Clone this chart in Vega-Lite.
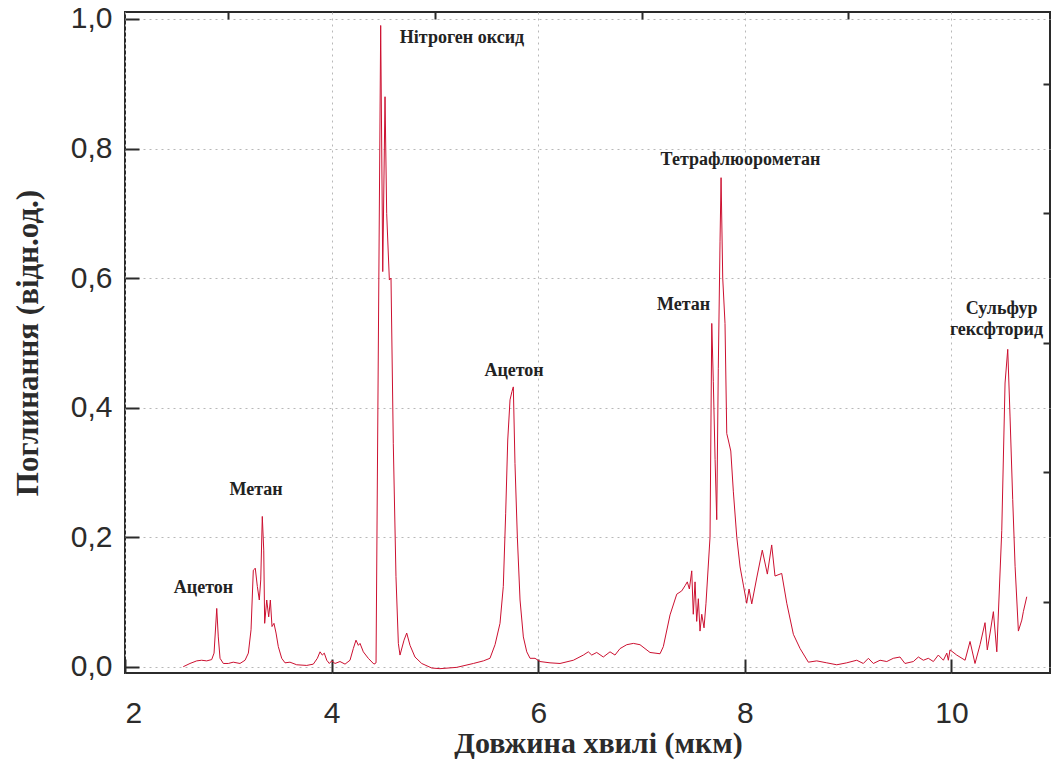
{
  "$schema": "https://vega.github.io/schema/vega-lite/v6.json",
  "width": 925,
  "height": 661,
  "autosize": {"type": "none"},
  "padding": {"left": 125, "top": 12, "right": 2, "bottom": 87},
  "background": "white",
  "config": {
    "view": {"stroke": "#2b2b2b", "strokeWidth": 2},
    "axis": {"domain": false, "tickColor": "#2b2b2b", "tickWidth": 2, "labelColor": "#2b2b2b", "titleColor": "#2b2b2b"}
  },
  "datasets": {
    "spectrum": [
      {"wl": 2.564, "a": 0.0}, {"wl": 2.629, "a": 0.005}, {"wl": 2.694, "a": 0.009}, {"wl": 2.742, "a": 0.010},
      {"wl": 2.791, "a": 0.009}, {"wl": 2.839, "a": 0.011}, {"wl": 2.862, "a": 0.021}, {"wl": 2.888, "a": 0.090},
      {"wl": 2.903, "a": 0.046}, {"wl": 2.920, "a": 0.013}, {"wl": 2.952, "a": 0.005}, {"wl": 3.000, "a": 0.005},
      {"wl": 3.048, "a": 0.007}, {"wl": 3.113, "a": 0.005}, {"wl": 3.162, "a": 0.010}, {"wl": 3.194, "a": 0.021},
      {"wl": 3.220, "a": 0.057}, {"wl": 3.242, "a": 0.149}, {"wl": 3.261, "a": 0.152}, {"wl": 3.281, "a": 0.124},
      {"wl": 3.300, "a": 0.103}, {"wl": 3.314, "a": 0.134}, {"wl": 3.329, "a": 0.232}, {"wl": 3.343, "a": 0.180},
      {"wl": 3.352, "a": 0.067}, {"wl": 3.372, "a": 0.103}, {"wl": 3.391, "a": 0.077}, {"wl": 3.407, "a": 0.103},
      {"wl": 3.423, "a": 0.062}, {"wl": 3.442, "a": 0.067}, {"wl": 3.462, "a": 0.052}, {"wl": 3.484, "a": 0.031},
      {"wl": 3.517, "a": 0.013}, {"wl": 3.549, "a": 0.006}, {"wl": 3.597, "a": 0.007}, {"wl": 3.662, "a": 0.003},
      {"wl": 3.759, "a": 0.002}, {"wl": 3.823, "a": 0.004}, {"wl": 3.862, "a": 0.013}, {"wl": 3.888, "a": 0.023},
      {"wl": 3.910, "a": 0.018}, {"wl": 3.929, "a": 0.021}, {"wl": 3.953, "a": 0.010}, {"wl": 3.978, "a": 0.005},
      {"wl": 4.001, "a": 0.009}, {"wl": 4.033, "a": 0.005}, {"wl": 4.081, "a": 0.008}, {"wl": 4.130, "a": 0.004},
      {"wl": 4.178, "a": 0.010}, {"wl": 4.210, "a": 0.028}, {"wl": 4.236, "a": 0.041}, {"wl": 4.259, "a": 0.033},
      {"wl": 4.275, "a": 0.036}, {"wl": 4.307, "a": 0.023}, {"wl": 4.355, "a": 0.013}, {"wl": 4.410, "a": 0.004},
      {"wl": 4.430, "a": 0.006}, {"wl": 4.475, "a": 0.990}, {"wl": 4.495, "a": 0.610}, {"wl": 4.517, "a": 0.880},
      {"wl": 4.533, "a": 0.700}, {"wl": 4.559, "a": 0.597}, {"wl": 4.575, "a": 0.600}, {"wl": 4.597, "a": 0.345},
      {"wl": 4.623, "a": 0.139}, {"wl": 4.646, "a": 0.036}, {"wl": 4.662, "a": 0.018}, {"wl": 4.701, "a": 0.041},
      {"wl": 4.727, "a": 0.052}, {"wl": 4.759, "a": 0.033}, {"wl": 4.807, "a": 0.015}, {"wl": 4.872, "a": 0.005},
      {"wl": 4.969, "a": -0.002}, {"wl": 5.049, "a": -0.003}, {"wl": 5.211, "a": -0.001}, {"wl": 5.372, "a": 0.005},
      {"wl": 5.469, "a": 0.009}, {"wl": 5.533, "a": 0.013}, {"wl": 5.582, "a": 0.034}, {"wl": 5.630, "a": 0.067},
      {"wl": 5.662, "a": 0.124}, {"wl": 5.685, "a": 0.237}, {"wl": 5.705, "a": 0.350}, {"wl": 5.727, "a": 0.412},
      {"wl": 5.746, "a": 0.425}, {"wl": 5.759, "a": 0.432}, {"wl": 5.775, "a": 0.314}, {"wl": 5.798, "a": 0.200},
      {"wl": 5.824, "a": 0.103}, {"wl": 5.856, "a": 0.046}, {"wl": 5.889, "a": 0.023}, {"wl": 5.921, "a": 0.013},
      {"wl": 5.969, "a": 0.013}, {"wl": 6.017, "a": 0.008}, {"wl": 6.114, "a": 0.006}, {"wl": 6.211, "a": 0.005},
      {"wl": 6.340, "a": 0.010}, {"wl": 6.437, "a": 0.018}, {"wl": 6.485, "a": 0.023}, {"wl": 6.518, "a": 0.018},
      {"wl": 6.566, "a": 0.022}, {"wl": 6.630, "a": 0.015}, {"wl": 6.695, "a": 0.023}, {"wl": 6.743, "a": 0.018},
      {"wl": 6.792, "a": 0.028}, {"wl": 6.857, "a": 0.034}, {"wl": 6.921, "a": 0.036}, {"wl": 6.985, "a": 0.034},
      {"wl": 7.082, "a": 0.022}, {"wl": 7.179, "a": 0.020}, {"wl": 7.211, "a": 0.031}, {"wl": 7.276, "a": 0.080},
      {"wl": 7.341, "a": 0.112}, {"wl": 7.389, "a": 0.117}, {"wl": 7.421, "a": 0.125}, {"wl": 7.443, "a": 0.131},
      {"wl": 7.463, "a": 0.120}, {"wl": 7.486, "a": 0.148}, {"wl": 7.501, "a": 0.081}, {"wl": 7.518, "a": 0.131},
      {"wl": 7.534, "a": 0.070}, {"wl": 7.550, "a": 0.105}, {"wl": 7.566, "a": 0.055}, {"wl": 7.583, "a": 0.081},
      {"wl": 7.605, "a": 0.060}, {"wl": 7.624, "a": 0.098}, {"wl": 7.663, "a": 0.200}, {"wl": 7.680, "a": 0.530},
      {"wl": 7.695, "a": 0.440}, {"wl": 7.712, "a": 0.320}, {"wl": 7.728, "a": 0.227}, {"wl": 7.743, "a": 0.460},
      {"wl": 7.760, "a": 0.657}, {"wl": 7.770, "a": 0.755}, {"wl": 7.786, "a": 0.600}, {"wl": 7.808, "a": 0.530},
      {"wl": 7.825, "a": 0.360}, {"wl": 7.840, "a": 0.350}, {"wl": 7.864, "a": 0.333}, {"wl": 7.889, "a": 0.270},
      {"wl": 7.922, "a": 0.200}, {"wl": 7.954, "a": 0.154}, {"wl": 7.986, "a": 0.126}, {"wl": 8.018, "a": 0.098},
      {"wl": 8.041, "a": 0.120}, {"wl": 8.067, "a": 0.097}, {"wl": 8.115, "a": 0.137}, {"wl": 8.169, "a": 0.180},
      {"wl": 8.218, "a": 0.143}, {"wl": 8.260, "a": 0.188}, {"wl": 8.292, "a": 0.140}, {"wl": 8.357, "a": 0.144},
      {"wl": 8.406, "a": 0.098}, {"wl": 8.470, "a": 0.050}, {"wl": 8.535, "a": 0.028}, {"wl": 8.615, "a": 0.007},
      {"wl": 8.696, "a": 0.009}, {"wl": 8.793, "a": 0.006}, {"wl": 8.890, "a": 0.003}, {"wl": 8.986, "a": 0.006},
      {"wl": 9.083, "a": 0.010}, {"wl": 9.147, "a": 0.005}, {"wl": 9.196, "a": 0.013}, {"wl": 9.244, "a": 0.005},
      {"wl": 9.309, "a": 0.010}, {"wl": 9.374, "a": 0.008}, {"wl": 9.437, "a": 0.013}, {"wl": 9.502, "a": 0.015},
      {"wl": 9.550, "a": 0.005}, {"wl": 9.631, "a": 0.008}, {"wl": 9.680, "a": 0.015}, {"wl": 9.728, "a": 0.010},
      {"wl": 9.776, "a": 0.013}, {"wl": 9.825, "a": 0.008}, {"wl": 9.873, "a": 0.018}, {"wl": 9.922, "a": 0.010},
      {"wl": 9.955, "a": 0.021}, {"wl": 9.970, "a": 0.010}, {"wl": 9.986, "a": 0.026}, {"wl": 10.051, "a": 0.018},
      {"wl": 10.132, "a": 0.010}, {"wl": 10.180, "a": 0.039}, {"wl": 10.228, "a": 0.005}, {"wl": 10.277, "a": 0.034},
      {"wl": 10.325, "a": 0.068}, {"wl": 10.347, "a": 0.026}, {"wl": 10.374, "a": 0.052}, {"wl": 10.406, "a": 0.085},
      {"wl": 10.439, "a": 0.023}, {"wl": 10.487, "a": 0.210}, {"wl": 10.519, "a": 0.438}, {"wl": 10.545, "a": 0.490},
      {"wl": 10.567, "a": 0.387}, {"wl": 10.593, "a": 0.258}, {"wl": 10.616, "a": 0.155}, {"wl": 10.648, "a": 0.055},
      {"wl": 10.681, "a": 0.072}, {"wl": 10.696, "a": 0.085}, {"wl": 10.729, "a": 0.108}
    ],
    "labels": [
      {"wl": 2.760, "a": 0.122, "name": "Ацетон"},
      {"wl": 3.268, "a": 0.273, "name": "Метан"},
      {"wl": 5.262, "a": 0.971, "name": "Нітроген оксид"},
      {"wl": 5.766, "a": 0.457, "name": "Ацетон"},
      {"wl": 7.407, "a": 0.558, "name": "Метан"},
      {"wl": 7.958, "a": 0.782, "name": "Тетрафлюорометан"},
      {"wl": 10.485, "a": 0.553, "name": "Сульфур"},
      {"wl": 10.436, "a": 0.520, "name": "гексфторид"}
    ]
  },
  "resolve": {"axis": {"x": "independent", "y": "independent"}},
  "layer": [
    {
      "data": {"name": "spectrum"},
      "mark": {"type": "line", "color": "#cc1030", "strokeWidth": 1, "clip": true},
      "encoding": {
        "x": {
          "field": "wl", "type": "quantitative",
          "scale": {"domain": [2, 10.954], "nice": false, "zero": false},
          "axis": {
            "values": [2, 4, 6, 8, 10], "tickSize": -14, "labelPadding": 63, "labelBaseline": "alphabetic",
            "labelFont": "Liberation Sans", "labelFontSize": 30,
            "grid": true, "gridColor": "#b8b8b8", "gridDash": [2, 4], "gridWidth": 1,
            "title": "Довжина хвилі (мкм)", "titleFont": "Liberation Serif", "titleFontSize": 30, "titleFontWeight": "bold",
            "titleX": 473, "titleY": 79, "titleBaseline": "alphabetic", "titleAlign": "center"
          }
        },
        "y": {
          "field": "a", "type": "quantitative",
          "scale": {"domain": [-0.0097, 1.0108], "nice": false, "zero": false},
          "axis": {
            "values": [0, 0.2, 0.4, 0.6, 0.8, 1.0], "tickSize": -14, "labelPadding": 27,
            "labelExpr": "replace(format(datum.value, '.1f'), '.', ',')",
            "labelFont": "Liberation Sans", "labelFontSize": 30,
            "grid": true, "gridColor": "#b8b8b8", "gridDash": [2, 4], "gridWidth": 1,
            "title": "Поглинання (відн.од.)", "titleFont": "Liberation Serif", "titleFontSize": 31, "titleFontWeight": "bold",
            "titleAngle": -90, "titleX": -97, "titleY": 330.5, "titleBaseline": "middle", "titleAlign": "center"
          }
        }
      }
    },
    {
      "data": {"name": "labels"},
      "mark": {"type": "text", "font": "Liberation Serif", "fontWeight": "bold", "fontSize": 18, "color": "#222222", "align": "center", "baseline": "middle"},
      "encoding": {
        "x": {
          "field": "wl", "type": "quantitative",
          "axis": {"values": [3, 5, 7, 9], "tickSize": -7, "labels": false, "grid": false, "title": null}
        },
        "y": {
          "field": "a", "type": "quantitative",
          "axis": {"values": [0.1, 0.3, 0.5, 0.7, 0.9], "tickSize": -7, "labels": false, "grid": false, "title": null}
        },
        "text": {"field": "name", "type": "nominal"}
      }
    }
  ]
}
